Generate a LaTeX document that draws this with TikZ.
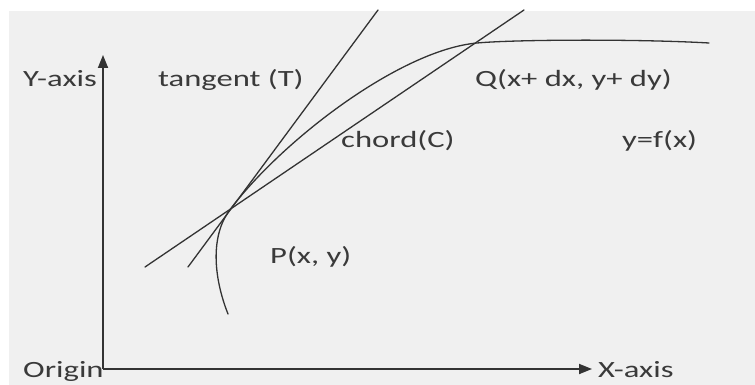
\documentclass[tikz,border=0pt]{standalone}
\usepackage{fontspec}
\setmainfont[FakeStretch=1.4]{Carlito}
\usetikzlibrary{arrows.meta}
\definecolor{bgray}{HTML}{F0F0F0}
\definecolor{ink}{HTML}{333333}
\definecolor{txt}{HTML}{3A3A3A}
\begin{document}
\begin{tikzpicture}[x=1pt,y=-1pt,
  lbl/.style={anchor=base west,inner sep=0pt,text=txt,font=\fontsize{23.3}{26}\selectfont},
  axisline/.style={draw=ink,line width=1.8pt,-{Triangle[length=13pt,width=10pt]}},
  thinline/.style={draw=ink,line width=1.3pt,line cap=round}]
\useasboundingbox (0,0) rectangle (755,385);
\fill[white] (0,0) rectangle (755,385);
\fill[bgray] (9,11) rectangle (755,385);
% axes
\coordinate (O) at (103,369);
\coordinate (ytip) at (103,55);
\coordinate (xtip) at (592,369);
\draw[axisline] (O) -- (ytip);
\draw[axisline] (O) -- (xtip);
% tangent and chord
\coordinate (t1) at (188,267);
\coordinate (t2) at (378,10);
\coordinate (c1) at (145,267);
\coordinate (c2) at (524,10);
\draw[thinline] (t1) -- (t2);
\draw[thinline] (c1) -- (c2);
% curve
\coordinate (cs) at (228,314);
\coordinate (P) at (229,211);
\coordinate (Q) at (477,43);
\coordinate (ce) at (709,43);
\draw[thinline] (cs) .. controls (213,276) and (211,236) .. (P)
  .. controls (281,141) and (400,50) .. (Q)
  .. controls (517,39.4) and (640,39) .. (ce);
% labels
\node[lbl] (ylab) at (23,87) {Y-axis};
\node[lbl] (tlab) at (158,87) {tangent (T)};
\node[lbl] (qlab) at (475,87) {Q(x+ dx, y+ dy)};
\node[lbl] (clab) at (341,148) {chord(C)};
\node[lbl] (flab) at (622,148) {y=f(x)};
\node[lbl] (plab) at (270,263) {P(x, y)};
\node[lbl] (olab) at (23,377) {Origin};
\node[lbl] (xlab) at (598,377) {X-axis};
\end{tikzpicture}
\end{document}
